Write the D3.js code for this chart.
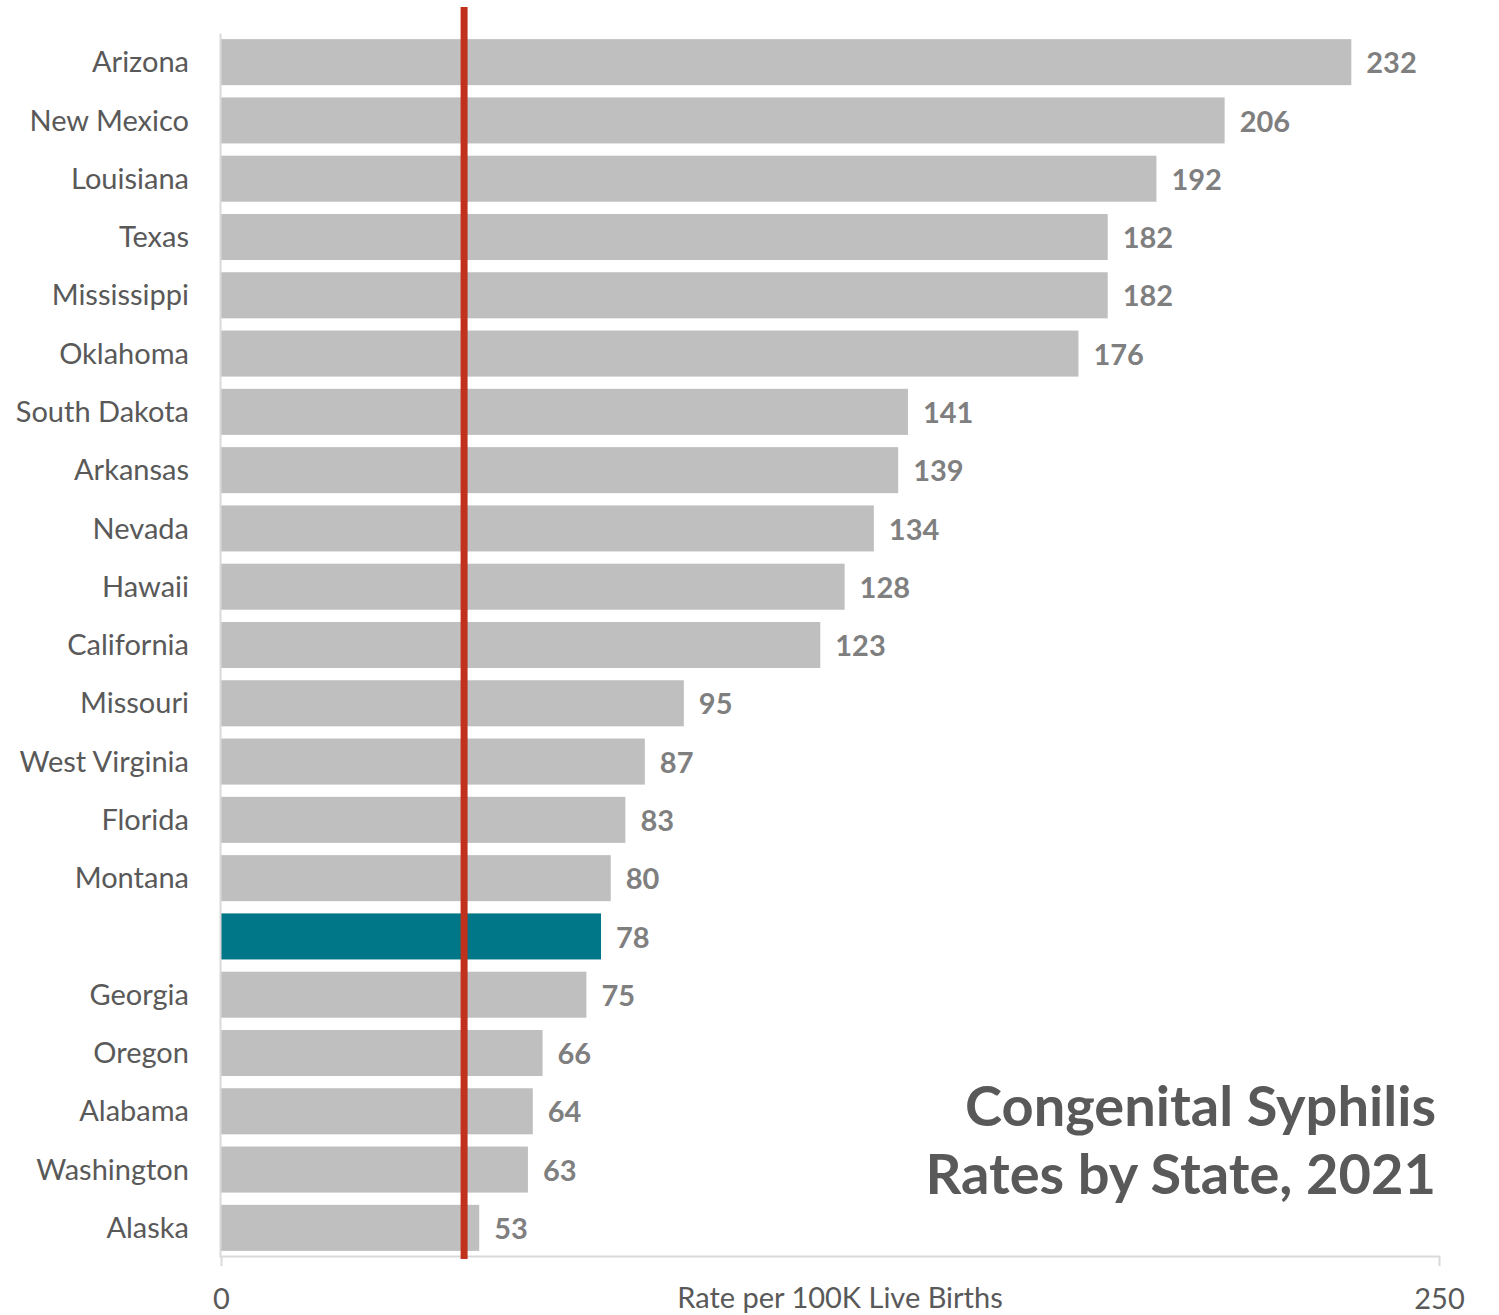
<!DOCTYPE html>
<html>
<head>
<meta charset="utf-8">
<script src="https://cdn.jsdelivr.net/npm/d3@7"></script>
<style>
  body { margin: 0; background: #fff; }
  svg text { font-family: Lato, "Open Sans", sans-serif; }
</style>
</head>
<body>
<div id="chart"></div>
<script>
const width = 1499, height = 1315;

// chart data
const states = ["Arizona", "New Mexico", "Louisiana", "Texas", "Mississippi", "Oklahoma",
  "South Dakota", "Arkansas", "Nevada", "Hawaii", "California", "Missouri",
  "West Virginia", "Florida", "Montana", "", "Georgia", "Oregon", "Alabama",
  "Washington", "Alaska"];
const rates = [232, 206, 192, 182, 182, 176, 141, 139, 134, 128, 123, 95, 87, 83, 80, 78,
  75, 66, 64, 63, 53];
const highlightIndex = [15];
const referenceValue = [50];
const xTicks = [0, 250];
const axisTitle = "Rate per 100K Live Births";
const titleLines = ["Congenital Syphilis", "Rates by State, 2021"];

const svg = d3.select("#chart").append("svg")
    .attr("width", width)
    .attr("height", height);

const x = d3.scaleLinear().domain([0, 250]).range([221, 1439]);
const y = d3.scaleBand()
    .domain(d3.range(states.length))
    .range([33, 1257])
    .paddingInner(0.21)
    .paddingOuter(0.105);

// bars
svg.selectAll(".bar")
    .data(rates)
    .enter()
    .append("rect")
    .attr("class", "bar")
    .attr("x", x(0))
    .attr("y", function (d, i) { return y(i); })
    .attr("width", function (d) { return x(d) - x(0); })
    .attr("height", y.bandwidth())
    .attr("fill", function (d, i) { return highlightIndex.includes(i) ? "#007788" : "#bfbfbf"; });

// value labels
svg.selectAll(".val")
    .data(rates)
    .enter()
    .append("text")
    .attr("class", "val")
    .attr("x", function (d) { return x(d) + 15; })
    .attr("y", function (d, i) { return y(i) + y.bandwidth() / 2 + 1; })
    .attr("dy", "0.35em")
    .attr("fill", "#7f7f7f")
    .style("font-size", "29px")
    .style("font-weight", "bold")
    .text(function (d) { return d; });

// left axis with state names
const yAxis = svg.append("g")
    .attr("transform", "translate(220,0)")
    .call(d3.axisLeft(y).tickSize(0).tickPadding(31).tickFormat(function (i) { return states[i]; }));
yAxis.select(".domain").attr("stroke", "#d9d9d9").attr("stroke-width", 2);
yAxis.selectAll("text")
    .attr("fill", "#595959")
    .attr("dy", "0.35em")
    .style("font-size", "29px");

// bottom axis
const xAxis = svg.append("g")
    .attr("transform", "translate(0,1256)")
    .call(d3.axisBottom(x).tickValues(xTicks).tickSize(10).tickSizeOuter(0).tickPadding(22));
xAxis.select(".domain").attr("stroke", "#d9d9d9").attr("stroke-width", 2);
xAxis.selectAll("line").attr("stroke", "#d9d9d9").attr("stroke-width", 2);
xAxis.selectAll("text")
    .attr("fill", "#595959")
    .style("font-size", "29px");

svg.append("text")
    .attr("x", 840)
    .attr("y", 1308)
    .attr("text-anchor", "middle")
    .attr("fill", "#595959")
    .style("font-size", "29px")
    .text(axisTitle);

// reference line
svg.selectAll(".ref")
    .data(referenceValue)
    .enter()
    .append("line")
    .attr("class", "ref")
    .attr("x1", function (d) { return x(d) - 0.5; })
    .attr("x2", function (d) { return x(d) - 0.5; })
    .attr("y1", 7)
    .attr("y2", 1259)
    .attr("stroke", "#c0321e")
    .attr("stroke-width", 7);

// title
svg.selectAll(".title")
    .data(titleLines)
    .enter()
    .append("text")
    .attr("class", "title")
    .attr("x", 1436)
    .attr("y", function (d, i) { return 1126 + i * 68; })
    .attr("text-anchor", "end")
    .attr("fill", "#595959")
    .style("font-size", "56px")
    .style("font-weight", "bold")
    .text(function (d) { return d; });
</script>
</body>
</html>
